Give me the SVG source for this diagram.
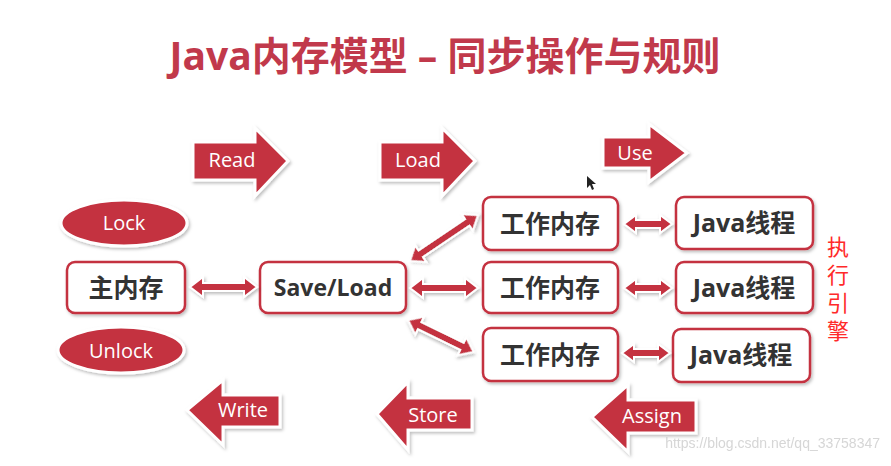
<svg xmlns="http://www.w3.org/2000/svg" width="891" height="466" viewBox="0 0 891 466">
<defs>
<filter id="sh" x="-20%" y="-20%" width="140%" height="150%">
<feDropShadow dx="1.5" dy="2" stdDeviation="1.5" flood-color="#000" flood-opacity="0.25"/>
</filter>
<style>
.blk{fill:#c4303f;stroke:#fff;stroke-width:3;stroke-linejoin:miter;filter:url(#sh)}
.ell{fill:#c4303f;stroke:#fff;stroke-width:3;filter:url(#sh)}
.box{fill:#fff;stroke:#c4303f;stroke-width:2.5;filter:url(#sh)}
.dbl{fill:#c4303f;stroke:#fff;stroke-width:2;stroke-linejoin:miter;filter:url(#sh)}
.lbl{font-family:"Open Sans","Noto Sans",sans-serif;font-size:20px;fill:#fff;text-anchor:middle}
.btx{font-family:"Open Sans","Noto Sans CJK SC",sans-serif;font-weight:700;font-size:25px;fill:#333;text-anchor:middle}
.ttl{font-family:"Open Sans","Noto Sans CJK SC",sans-serif;font-weight:700;font-size:39px;fill:#c1394b;text-anchor:middle}
.eng{font-family:"Noto Sans CJK SC",sans-serif;font-size:22px;fill:#ff2a2a;writing-mode:vertical-rl;letter-spacing:6px}
</style>
</defs>
<rect width="891" height="466" fill="#fff"/>
<text class="ttl" x="445" y="70">Java内存模型 – 同步操作与规则</text>

<g id="read"><polygon class="blk" points="193,142 255,142 255,128 288,161 255,196 255,180 193,180"/><text class="lbl" x="232" y="167">Read</text></g>
<g id="load"><polygon class="blk" points="380,142 442,142 442,128 475,161 442,196 442,180 380,180"/><text class="lbl" x="418" y="167">Load</text></g>
<g id="use"><polygon class="blk" points="603,137 649,137 649,124 687,153 649,182 649,168 603,168"/><text class="lbl" x="635" y="160">Use</text></g>

<g id="lock"><ellipse class="ell" cx="124" cy="223" rx="63" ry="23"/><text class="lbl" x="124" y="230">Lock</text></g>
<g id="unlock"><ellipse class="ell" cx="121" cy="350" rx="63" ry="23"/><text class="lbl" x="121" y="358">Unlock</text></g>

<g id="main"><rect class="box" x="67" y="262" width="118" height="51" rx="8"/><text class="btx" x="126" y="297">主内存</text></g>
<g id="saveload"><rect class="box" x="260" y="262" width="146" height="51" rx="8"/><text class="btx" x="333" y="296" style="font-size:23px">Save/Load</text></g>

<g id="wm1"><rect class="box" x="483" y="197" width="135" height="53" rx="8"/><text class="btx" x="550" y="233">工作内存</text></g>
<g id="wm2"><rect class="box" x="483" y="262" width="135" height="51" rx="8"/><text class="btx" x="550" y="297">工作内存</text></g>
<g id="wm3"><rect class="box" x="483" y="328" width="135" height="53" rx="8"/><text class="btx" x="550" y="364">工作内存</text></g>

<g id="jt1"><rect class="box" x="676" y="197" width="137" height="52" rx="8"/><text class="btx" x="744" y="232">Java线程</text></g>
<g id="jt2"><rect class="box" x="676" y="262" width="137" height="51" rx="8"/><text class="btx" x="744" y="297">Java线程</text></g>
<g id="jt3"><rect class="box" x="673" y="329" width="137" height="53" rx="8"/><text class="btx" x="741" y="364">Java线程</text></g>

<g id="engine">
<text class="eng" x="838" y="236">执行引擎</text>
</g>

<g id="write"><polygon class="blk" points="187,410 223,380 223,395 280,395 280,427 223,427 223,445"/><text class="lbl" x="243" y="417">Write</text></g>
<g id="store"><polygon class="blk" points="377,414 408,382 408,398 472,398 472,430 408,430 408,450"/><text class="lbl" x="433" y="422">Store</text></g>
<g id="assign"><polygon class="blk" points="592,417 628,385 628,400 696,400 696,433 628,433 628,452"/><text class="lbl" x="652" y="423">Assign</text></g>

<g id="connectors">
<polygon class="dbl" transform="translate(190,287)" points="0,0 13,-10 13,-4 54,-4 54,-10 67,0 54,10 54,4 13,4 13,10"/>
<polygon class="dbl" transform="translate(410,288)" points="0,0 13,-10 13,-4 55,-4 55,-10 68,0 55,10 55,4 13,4 13,10"/>
<polygon class="dbl" transform="translate(410,261) rotate(-34)" points="0,0 13,-10 13,-4 69,-4 69,-10 82,0 69,10 69,4 13,4 13,10"/>
<polygon class="dbl" transform="translate(408,320) rotate(26)" points="0,0 13,-10 13,-4 60,-4 60,-10 73,0 60,10 60,4 13,4 13,10"/>
<polygon class="dbl" transform="translate(624,224)" points="0,0 12,-9 12,-4 36,-4 36,-9 48,0 36,9 36,4 12,4 12,9"/>
<polygon class="dbl" transform="translate(624,288)" points="0,0 12,-9 12,-4 36,-4 36,-9 48,0 36,9 36,4 12,4 12,9"/>
<polygon class="dbl" transform="translate(622,353)" points="0,0 12,-9 12,-4 36,-4 36,-9 48,0 36,9 36,4 12,4 12,9"/>
</g>

<polygon points="587,176 587,188 590,185 592,190 594,189 592,184 596,184" fill="#222"/>
<text x="880" y="448" text-anchor="end" font-family="'Liberation Sans',sans-serif" font-size="14" fill="#ccc" opacity="0.8">https://blog.csdn.net/qq_33758347</text>
</svg>
